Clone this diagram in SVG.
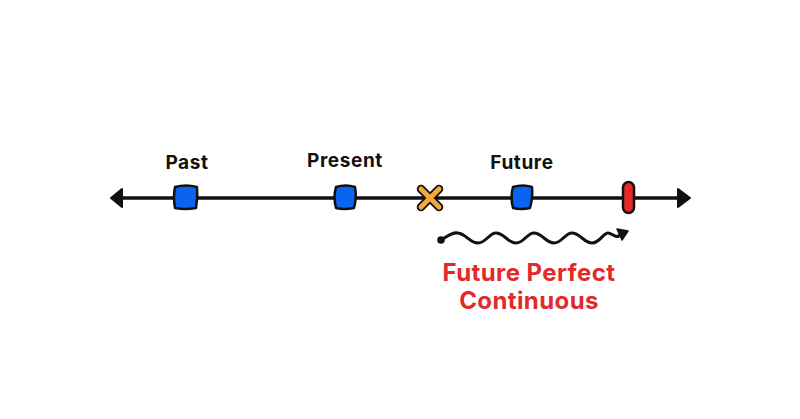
<svg xmlns="http://www.w3.org/2000/svg" width="800" height="419" viewBox="0 0 800 419">
<style>
.lbl{font-family:Inter,"Open Sans","Liberation Sans",sans-serif;font-weight:700;font-size:19px;letter-spacing:0.6px;fill:#111;text-anchor:middle}
.red{font-family:Inter,"Open Sans","Liberation Sans",sans-serif;font-weight:700;font-size:24px;letter-spacing:0.4px;fill:#e32a2a;text-anchor:middle}
.sq{fill:#0a64f0;stroke:#111;stroke-width:2.5;stroke-linejoin:round}
</style>
<rect width="800" height="419" fill="#fff"/>
<g id="connectors">
<line x1="116" y1="198" x2="684" y2="198" stroke="#111" stroke-width="3.5"/>
<path d="M122,189 L111,198 L122,207 Z" fill="#111" stroke="#111" stroke-width="2" stroke-linejoin="round"/>
<path d="M678,189 L690,198 L678,207 Z" fill="#111" stroke="#111" stroke-width="2" stroke-linejoin="round"/>
<path d="M441,240 C448,236 452,232 458,233 C466,234 470,243 478,243 C486,243 489,233 496,233 C504,233 508,243 516,243 C524,243 527,233 534,233 C542,233 546,243 554,243 C562,243 565,233 572,233 C580,233 584,243 592,243 C600,243 603,233 608,233 C613,233 616,241 622,233" fill="none" stroke="#111" stroke-width="3" stroke-linecap="round"/>
<circle cx="441" cy="240" r="3.8" fill="#111"/>
<path d="M617,229 L628,231 L622,240 Z" fill="#111" stroke="#111" stroke-width="1.5" stroke-linejoin="round"/>
</g>
<g id="past">
<path class="sq" d="M175,187 Q186,184 197,187 Q198,197 196,208 Q186,210 175,208 Q173,197 175,187 Z"/>
<text class="lbl" x="187" y="169">Past</text>
</g>
<g id="present">
<path class="sq" d="M336,187 Q346,184 355,187 Q357,197 354,208 Q344,210 336,208 Q333,197 336,187 Z"/>
<text class="lbl" x="345" y="167">Present</text>
</g>
<g id="now">
<path d="M421,189 L439,207 M439,189 L421,207" stroke="#111" stroke-width="8.5" stroke-linecap="round"/>
<path d="M421,189 L439,207 M439,189 L421,207" stroke="#f5a83a" stroke-width="5" stroke-linecap="round"/>
</g>
<g id="future">
<path class="sq" d="M513,187 Q523,184 532,187 Q533,197 530,208 Q521,210 513,208 Q510,197 513,187 Z"/>
<text class="lbl" x="522" y="169">Future</text>
</g>
<g id="end">
<rect x="623" y="182" width="11" height="31" rx="5.5" fill="#e32a2a" stroke="#111" stroke-width="2.5"/>
</g>
<g id="label">
<text class="red" x="529" y="281">Future Perfect</text>
<text class="red" x="529" y="309">Continuous</text>
</g>
</svg>
